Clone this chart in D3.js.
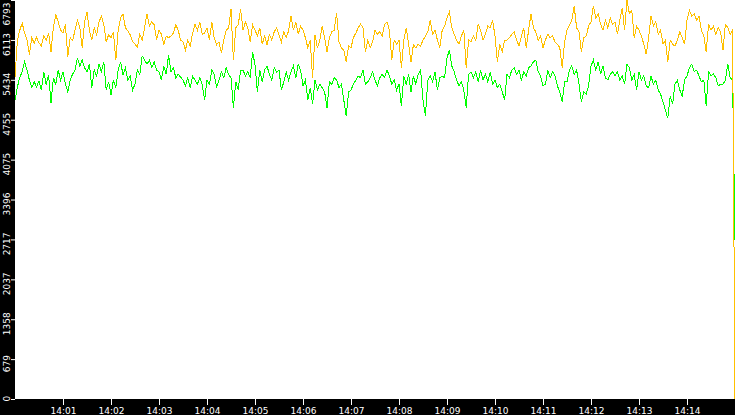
<!DOCTYPE html>
<html>
<head>
<meta charset="utf-8">
<script src="https://cdn.jsdelivr.net/npm/d3@7"></script>
<style>
    html, body { margin: 0; padding: 0; background: #000; overflow: hidden; }
    svg { display: block; }
    .axis text { font-family: "DejaVu Sans", Verdana, sans-serif; font-size: 9px; fill: #fff; }
</style>
</head>
<body>
<div id="chart"></div>
<script>
// time range of the samples, one every 3 seconds
const startTime = "14:00:00";
const endTime = "14:15:00";
const stepSeconds = 3;

const xTickLabels = ["14:01", "14:02", "14:03", "14:04", "14:05", "14:06", "14:07",
    "14:08", "14:09", "14:10", "14:11", "14:12", "14:13", "14:14"];
const yTickLabels = [0, 679, 1358, 2037, 2717, 3396, 4075, 4755, 5434, 6113, 6793];
const yMax = 6793;

// orange series
const seriesOrange = [
    5480, 6110, 6280, 6400, 6230, 6110, 5860, 6150, 6060, 6160,
    6060, 6010, 6180, 6110, 6230, 5910, 6330, 6540, 6420, 6280,
    6230, 6380, 5820, 6150, 6100, 6280, 6450, 6330, 5980, 6420,
    6590, 6280, 6110, 6320, 6200, 6420, 6520, 6370, 6080, 6200,
    6150, 6250, 5770, 6280, 6490, 6560, 6320, 6270, 6200, 6080,
    6040, 5990, 6210, 6110, 6320, 6560, 6350, 6420, 6370, 6110,
    6280, 6210, 6030, 6180, 6150, 6180, 6230, 6370, 6280, 6110,
    6080, 5940, 6110, 6010, 6230, 6380, 6280, 6420, 6210, 6230,
    6320, 6110, 6420, 6150, 6030, 6080, 5890, 6110, 6280, 6320,
    6640, 5770, 6320, 6370, 6640, 6280, 6420, 6320, 6080, 6370,
    6280, 6180, 6320, 6040, 6180, 6030, 6200, 6110, 6250, 6320,
    6200, 6080, 6250, 6150, 6270, 6520, 6280, 6420, 6210, 6350,
    6280, 6150, 5980, 6110, 5470, 6200, 5980, 6110, 6350, 6150,
    5910, 6150, 6250, 6280, 6570, 6080, 5980, 5940, 5740, 6010,
    5980, 6150, 6230, 6320, 6380, 6320, 5910, 6110, 5980, 6080,
    6280, 6210, 6250, 6180, 6380, 6420, 6280, 5770, 6110, 6040,
    6110, 5640, 6110, 6320, 6040, 5740, 6030, 5980, 6040, 6010,
    6110, 6180, 6250, 6450, 6210, 6280, 6110, 5980, 6280, 6350,
    6490, 6590, 6320, 6210, 6110, 6040, 6180, 6280, 5640, 6110,
    6080, 6180, 6110, 6380, 6280, 6110, 6210, 6350, 6320, 6450,
    6180, 5740, 6040, 5910, 6110, 6110, 6150, 6210, 6250, 6110,
    6010, 6180, 6320, 5980, 6280, 6560, 6320, 6250, 6110, 6180,
    5980, 6110, 6210, 6150, 6180, 6080, 6040, 5980, 5640, 6080,
    6280, 6370, 6450, 6690, 6320, 6250, 5910, 6150, 6180, 6350,
    6420, 6690, 6490, 6560, 6380, 6280, 6450, 6320, 6490, 6380,
    6420, 6210, 6450, 6660, 6280, 6793, 6560, 6620, 6150, 6350,
    6280, 6180, 6040, 5870, 6150, 6520, 6350, 6420, 6210, 6280,
    6040, 6110, 5740, 6110, 6040, 6010, 6110, 6250, 6150, 6040,
    6450, 6620, 6520, 6560, 6450, 6520, 6280, 6180, 5910, 6380,
    6280, 6350, 6210, 6320, 6250, 5940, 6380, 6320, 6210, 6280,
    0
];

// green series
const seriesGreen = [
    5090, 5310, 5480, 5570, 5740, 5600, 5430, 5300, 5400, 5310,
    5420, 5260, 5570, 5350, 5520, 5040, 5470, 5350, 5600, 5430,
    5570, 5360, 5230, 5430, 5530, 5600, 5810, 5670, 5770, 5640,
    5570, 5700, 5300, 5600, 5500, 5700, 5570, 5740, 5260, 5400,
    5180, 5430, 5300, 5600, 5740, 5520, 5640, 5430, 5500, 5260,
    5360, 5600, 5530, 5840, 5770, 5700, 5770, 5640, 5740, 5600,
    5570, 5430, 5670, 5530, 5860, 5570, 5640, 5470, 5530, 5480,
    5430, 5330, 5470, 5300, 5500, 5430, 5360, 5470, 5360, 5090,
    5430, 5360, 5600, 5530, 5300, 5430, 5570, 5470, 5640, 5520,
    5470, 4960, 5400, 5260, 5600, 5600, 5500, 5570, 5470, 5910,
    5690, 5230, 5600, 5400, 5600, 5670, 5530, 5430, 5640, 5570,
    5600, 5260, 5400, 5570, 5430, 5570, 5670, 5470, 5700, 5600,
    5330, 5430, 5090, 5300, 5020, 5430, 5260, 5360, 5300, 5230,
    4960, 5400, 5360, 5470, 5430, 5300, 5360, 5090, 4820, 5230,
    5260, 5360, 5430, 5500, 5470, 5600, 5360, 5400, 5470, 5570,
    5430, 5330, 5470, 5530, 5470, 5600, 5500, 5360, 5430, 5260,
    5360, 4990, 5500, 5360, 5530, 5230, 5500, 5360, 5530, 5600,
    5090, 4820, 5430, 5500, 5400, 5570, 5260, 5470, 5500, 5470,
    5810, 5940, 5670, 5570, 5430, 5330, 5400, 5260, 4960, 5530,
    5570, 5470, 5570, 5400, 5600, 5430, 5530, 5400, 5570, 5360,
    5430, 5300, 5360, 5230, 5090, 5530, 5470, 5600, 5640, 5530,
    5600, 5430, 5570, 5500, 5640, 5670, 5740, 5770, 5570, 5500,
    5330, 5360, 5600, 5470, 5570, 5500, 5330, 5230, 5060, 5400,
    5400, 5600, 5670, 5530, 5600, 5360, 5060, 5230, 5190, 5330,
    5670, 5770, 5600, 5740, 5530, 5670, 5470, 5430, 5530, 5570,
    5500, 5570, 5430, 5500, 5360, 5700, 5640, 5430, 5530, 5260,
    5570, 5430, 5500, 5330, 5300, 5500, 5360, 5430, 5260, 5190,
    5060, 4920, 4780, 5160, 5020, 5360, 5430, 5260, 5160, 5430,
    5500, 5640, 5700, 5570, 5600, 5500, 5400, 5430, 4990, 5570,
    5500, 5530, 5470, 5330, 5360, 5360, 5430, 5700, 5470, 5430,
    2700
];

function makeChart(containerSelector) {
    const width = 735;
    const height = 415;
    const margin = { top: 0, right: 0, bottom: 16, left: 15 };
    const plotBottom = height - margin.bottom;

    d3.select(containerSelector).html("");

    const svg = d3.select(containerSelector)
        .append("svg")
        .attr("width", width)
        .attr("height", height)
        .attr("viewBox", `0 0 ${width} ${height}`);

    // black frame, white plot
    svg.append("rect")
        .attr("width", width)
        .attr("height", height)
        .attr("fill", "#000");
    svg.append("rect")
        .attr("x", margin.left)
        .attr("y", margin.top)
        .attr("width", width - margin.left - margin.right)
        .attr("height", plotBottom - margin.top)
        .attr("fill", "#fff");

    const parseTime = d3.timeParse("%H:%M:%S");
    const parseTick = d3.timeParse("%H:%M");
    const t0 = parseTime(startTime);

    const xScale = d3.scaleTime()
        .domain([t0, parseTime(endTime)])
        .range([margin.left, width - margin.right]);

    const yScale = d3.scaleLinear()
        .domain([0, yMax])
        .range([plotBottom, margin.top]);

    const timeAt = i => new Date(t0.getTime() + i * stepSeconds * 1000);

    const line = d3.line()
        .x((d, i) => xScale(timeAt(i)))
        .y(d => yScale(d));

    const plot = svg.append("g");

    // green first, orange on top
    plot.append("path")
        .datum(seriesGreen)
        .attr("fill", "none")
        .attr("stroke", "#00ff00")
        .attr("stroke-width", 1)
        .attr("shape-rendering", "crispEdges")
        .attr("d", line);

    plot.append("path")
        .datum(seriesOrange)
        .attr("fill", "none")
        .attr("stroke", "#ffc000")
        .attr("stroke-width", 1)
        .attr("shape-rendering", "crispEdges")
        .attr("d", line);

    // X axis
    const xAxis = svg.append("g")
        .attr("class", "axis")
        .attr("transform", `translate(0,${plotBottom})`)
        .call(d3.axisBottom(xScale)
            .tickValues(xTickLabels.map(parseTick))
            .tickFormat(d3.timeFormat("%H:%M"))
            .tickSize(6));
    xAxis.select(".domain").remove();
    xAxis.selectAll("line").attr("stroke", "#fff");
    xAxis.selectAll("text")
        .attr("y", 15)
        .attr("dy", 0);

    // Y axis, labels rotated
    const yAxis = svg.append("g")
        .attr("class", "axis")
        .attr("transform", `translate(${margin.left},0)`)
        .call(d3.axisLeft(yScale)
            .tickValues(yTickLabels)
            .tickFormat(d3.format("d"))
            .tickSize(4));
    yAxis.select(".domain").remove();
    yAxis.selectAll("line").attr("stroke", "#fff");
    yAxis.selectAll("text")
        .attr("x", null)
        .attr("dy", null)
        .attr("text-anchor", "middle")
        .attr("transform", d => {
            const half = String(d).length * 5.73 / 2;
            let cy = yScale(d) + 4;
            cy = Math.max(2 + half, Math.min(401 - half, cy));
            return `translate(-5,${cy - yScale(d)}) rotate(-90)`;
        });

    return svg.node();
}

makeChart("#chart");
</script>
</body>
</html>
